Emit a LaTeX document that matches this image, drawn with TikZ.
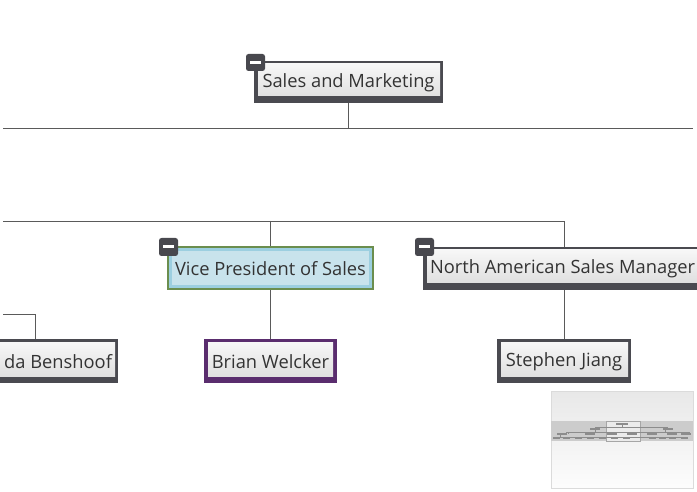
\documentclass[tikz,border=0pt]{standalone}
\usepackage{fontspec}
\setmainfont{Open Sans}
\begin{document}
\begin{tikzpicture}[x=1pt,y=-1pt,
  every node/.style={inner sep=0pt,outer sep=0pt},
  conn/.style={draw=linegray,line width=0.9pt},
  lbl/.style={text=txt,font=\fontsize{18.3}{21}\selectfont},
  frame/.style={anchor=north west,rectangle,fill=#1},
  minus/.style={fill=btn,rounded corners=2.5pt}
]
\definecolor{dark}{HTML}{4A4A50}
\definecolor{btn}{HTML}{48484E}
\definecolor{linegray}{HTML}{5A5A5A}
\definecolor{txt}{HTML}{333333}
\definecolor{lighttop}{HTML}{F7F7F7}
\definecolor{lightbot}{HTML}{E0E0E0}
\definecolor{vpgreen}{HTML}{6B8E4E}
\definecolor{vpblue}{HTML}{9CCFE0}
\definecolor{vpfill}{HTML}{C8E3EC}
\definecolor{purp}{HTML}{5A2D6E}
\useasboundingbox (0,0) rectangle (697,492);
\clip (0,0) rectangle (697,492);
\fill[white] (0,0) rectangle (697,492);

% ---------- connector ends
\coordinate (busL) at (3,128);
\coordinate (busR) at (693,128);
\coordinate (bus2L) at (3,221);
\coordinate (bus2R) at (564,221);
\coordinate (b3L) at (3,314);
\coordinate (b3R) at (35,314);

% ---------- boxes
% Sales and Marketing
\node[frame=dark,minimum width=189pt,minimum height=42pt] (sm) at (254,61) {};
\shade[top color=lighttop,bottom color=lightbot] (258,64) rectangle (440,96);
\node[lbl] (smt) at (348.5,83) {Sales and Marketing};
\fill[minus] (246,54) rectangle (265,71);
\fill[white] (250,61) rectangle (261,64);

% Vice President of Sales
\node[frame=vpgreen,minimum width=207pt,minimum height=44pt] (vp) at (167,246) {};
\fill[vpblue] (169,248) rectangle (372,288);
\fill[vpfill] (172,251) rectangle (369,285);
\node[lbl] (vpt) at (270.5,268.5) {Vice President of Sales};
\fill[minus] (159,238) rectangle (178,256);
\fill[white] (163,245.5) rectangle (174,248.5);

% North American Sales Manager
\node[frame=dark,minimum width=290pt,minimum height=43pt] (na) at (423,247) {};
\shade[top color=lighttop,bottom color=lightbot] (427,250) rectangle (713,282);
\node[lbl,anchor=west] (nat) at (430,269) {North American Sales Manager};
\fill[minus] (415,238) rectangle (434,256);
\fill[white] (419,245.5) rectangle (430,248.5);
\coordinate (nadown) at (564,290);

% Brian Welcker
\node[frame=purp,minimum width=133pt,minimum height=44pt] (bw) at (204,339) {};
\shade[top color=lighttop,bottom color=lightbot] (208,342) rectangle (333,376);
\node[lbl] (bwt) at (270.5,361.5) {Brian Welcker};

% Stephen Jiang
\node[frame=dark,minimum width=134pt,minimum height=44pt] (sj) at (497,339) {};
\shade[top color=lighttop,bottom color=lightbot] (501,342) rectangle (628,376);
\node[lbl] (sjt) at (564,361.5) {Stephen Jiang};

% ...da Benshoof
\node[frame=dark,minimum width=148pt,minimum height=44pt] (lb) at (-30,339) {};
\shade[top color=lighttop,bottom color=lightbot] (-30,342) rectangle (115,376);
\node[lbl,anchor=east] (lbt) at (112,361.5) {da Benshoof};

% ---------- connector drawing
\draw[conn] (busL) -- (busR);
\draw[conn] (sm.south) -- (sm.south |- busL);
\draw[conn] (bus2L) -- (bus2R) -- (bus2R |- na.north);
\draw[conn] (vp.north |- bus2L) -- (vp.north);
\draw[conn] (vp.south) -- (bw.north);
\draw[conn] (nadown) -- (sj.north);
\draw[conn] (b3L) -- (b3R) -- (b3R |- lb.north);

% ---------- overview panel
\shade[top color=black!9,bottom color=black!1,draw=black!14,line width=0.6pt] (551,391) rectangle (693,488);
\fill[black!20] (551.3,421) rectangle (692.7,441);
\fill[white!92!black] (606,421) rectangle (640,441);
\draw[black!35,line width=0.4pt] (606,421) rectangle (640,441);
\begin{scope}[black!45,line width=0.4pt]
  \fill (616,423) rectangle (628,425);
  \draw (622,425) -- (622,427) (595,427) -- (668,427);
  \fill (590,428) rectangle (600,430);
  \fill (663,428) rectangle (673,430);
  \draw (595,430) -- (595,432) (566,432) -- (650,432) (568,432) -- (568,434);
  \draw (665,430) -- (665,432) (620,432) -- (690,432);
  \foreach \xx in {562,590,612,632,652,672,686}{\fill (\xx-5,433) rectangle (\xx+5,435);}
  \draw (560,435) -- (560,437) (556,437) -- (688,437);
  \foreach \xx in {556,566,578,590,602,614,626,652,662,672,684}{\fill (\xx-3.5,437) rectangle (\xx+3.5,439);}
\end{scope}
\end{tikzpicture}
\end{document}
